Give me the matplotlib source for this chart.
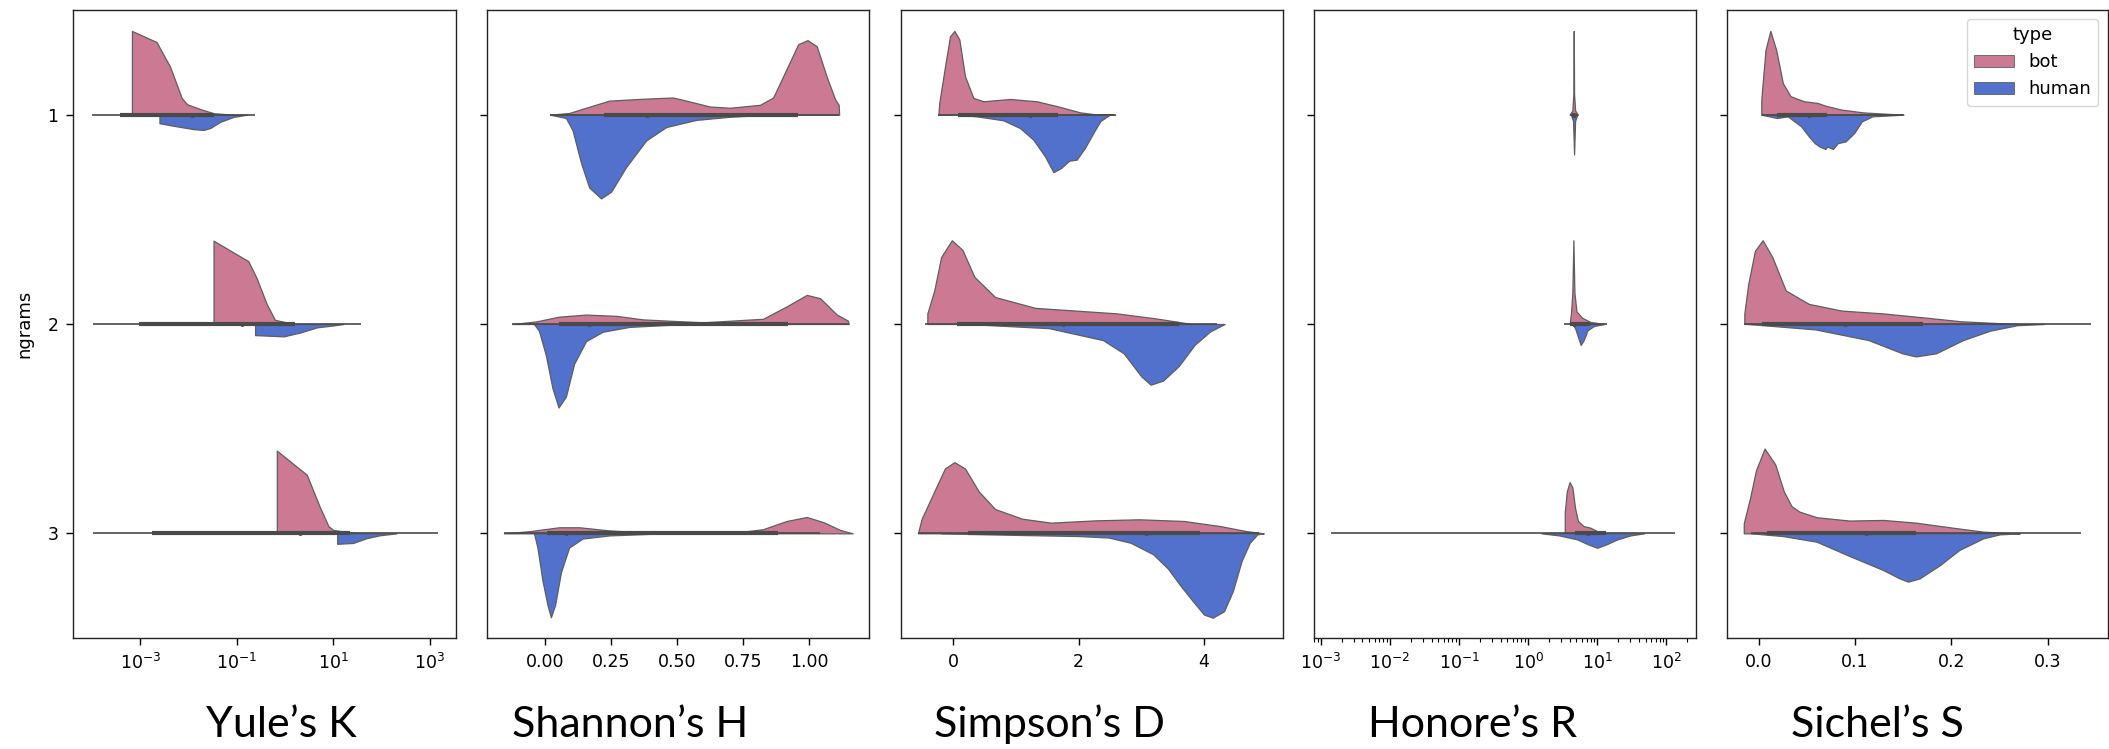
import matplotlib.pyplot as plt
import matplotlib.ticker as mticker
import numpy as np

# --- categories / legend ---
ngrams = ["1", "2", "3"]
types = ["bot", "human"]
titles = ["Yule\u2019s K", "Shannon\u2019s H", "Simpson\u2019s D", "Honore\u2019s R", "Sichel\u2019s S"]

# --- violin half-profiles: (x, half width) per ngram ---
# Yule's K, x given as log10 exponents
yule_bot = [
    ([-3.17, -3.17, -2.66, -2.38, -2.14, -2.03, -1.76, -1.48, -1.07],
     [0, 0.40, 0.347, 0.229, 0.08, 0.05, 0.027, 0.007, 0]),
    ([-1.48, -1.48, -0.76, -0.59, -0.38, -0.21, -0.03, 0.21],
     [0, 0.398, 0.30, 0.22, 0.096, 0.02, 0.011, 0]),
    ([-0.17, -0.17, 0.45, 0.72, 0.90, 1.0, 1.34, 1.6],
     [0, 0.395, 0.28, 0.126, 0.034, 0.016, 0.005, 0]),
]
yule_hum = [
    ([-2.6, -2.6, -2.31, -1.9, -1.69, -1.55, -1.34, -1.07, -0.79],
     [0, 0.041, 0.053, 0.069, 0.073, 0.064, 0.034, 0.011, 0]),
    ([-0.62, -0.62, -0.03, 0.31, 0.66, 1.0, 1.21],
     [0, 0.053, 0.059, 0.041, 0.016, 0.007, 0]),
    ([1.08, 1.08, 1.41, 1.69, 1.97, 2.31],
     [0, 0.05, 0.046, 0.023, 0.009, 0]),
]
# box stats: whisker low, q1, median, q3, whisker high
yule_box = [(-4.0, -3.41, -1.93, -1.48, -0.62),
            (-3.98, -3.03, -0.9, 0.21, 1.57),
            (-3.98, -2.76, 0.3, 1.34, 3.17)]

# Shannon's H
shannon_bot = [
    ([0.019, 0.091, 0.155, 0.243, 0.37, 0.484, 0.535, 0.624, 0.70, 0.814, 0.864, 0.915, 0.959, 0.994, 1.029, 1.067, 1.099, 1.112, 1.114],
     [0, 0.008, 0.033, 0.067, 0.076, 0.082, 0.067, 0.039, 0.033, 0.047, 0.082, 0.219, 0.337, 0.356, 0.327, 0.18, 0.072, 0.047, 0]),
    ([-0.124, -0.035, 0.053, 0.155, 0.269, 0.37, 0.598, 0.826, 0.915, 0.991, 1.042, 1.105, 1.147, 1.15],
     [0, 0.012, 0.035, 0.045, 0.039, 0.022, 0.008, 0.025, 0.084, 0.139, 0.123, 0.045, 0.016, 0]),
    ([-0.156, -0.061, 0.053, 0.129, 0.243, 0.408, 0.725, 0.826, 0.915, 0.991, 1.055, 1.118, 1.165],
     [0, 0.01, 0.029, 0.029, 0.014, 0.002, 0.004, 0.02, 0.059, 0.078, 0.053, 0.016, 0]),
]
shannon_hum = [
    ([0.019, 0.079, 0.104, 0.136, 0.167, 0.212, 0.25, 0.307, 0.383, 0.459, 0.573, 0.70, 0.79, 0.915],
     [0, 0.016, 0.074, 0.23, 0.348, 0.40, 0.368, 0.25, 0.123, 0.059, 0.025, 0.01, 0.004, 0]),
    ([-0.042, -0.023, 0.003, 0.028, 0.051, 0.079, 0.11, 0.155, 0.218, 0.319, 0.471, 0.598],
     [0, 0.033, 0.15, 0.307, 0.399, 0.346, 0.19, 0.082, 0.037, 0.014, 0.004, 0]),
    ([-0.042, -0.029, -0.01, 0.009, 0.022, 0.038, 0.06, 0.091, 0.142, 0.243, 0.408, 0.535],
     [0, 0.068, 0.225, 0.342, 0.401, 0.342, 0.186, 0.068, 0.025, 0.01, 0.002, 0]),
]
shannon_box = [(0.019, 0.224, 0.387, 0.959, 1.114),
               (-0.124, 0.053, 0.167, 0.921, 1.15),
               (-0.156, 0.009, 0.079, 0.883, 1.042)]

# Simpson's D
simpson_bot = [
    ([-0.234, -0.22, -0.128, -0.048, 0.021, 0.1, 0.191, 0.324, 0.484, 0.909, 1.334, 1.706, 2.025, 2.238, 2.584],
     [0, 0.056, 0.231, 0.375, 0.40, 0.359, 0.183, 0.08, 0.064, 0.075, 0.064, 0.037, 0.011, 0.003, 0]),
    ([-0.41, -0.41, -0.3, -0.19, -0.02, 0.15, 0.34, 0.67, 1.31, 1.96, 2.6, 3.25, 3.68, 3.8],
     [0, 0.05, 0.16, 0.32, 0.40, 0.354, 0.225, 0.129, 0.077, 0.064, 0.051, 0.026, 0.006, 0]),
    ([-0.56, -0.5, -0.3, -0.13, 0.02, 0.19, 0.41, 0.67, 1.1, 1.56, 2.27, 2.97, 3.68, 4.25, 4.67, 4.95],
     [0, 0.07, 0.2, 0.31, 0.34, 0.31, 0.2, 0.116, 0.07, 0.051, 0.062, 0.067, 0.059, 0.035, 0.011, 0]),
]
simpson_hum = [
    ([0.058, 0.377, 0.802, 1.068, 1.281, 1.467, 1.6, 1.72, 1.85, 1.97, 2.1, 2.25, 2.35, 2.5],
     [0, 0.008, 0.027, 0.064, 0.12, 0.2, 0.275, 0.255, 0.22, 0.215, 0.16, 0.08, 0.03, 0]),
    ([0.24, 1.53, 2.39, 2.72, 3.0, 3.15, 3.35, 3.6, 3.85, 4.1, 4.33],
     [0, 0.02, 0.077, 0.14, 0.25, 0.29, 0.27, 0.2, 0.1, 0.035, 0]),
    ([-0.19, 1.1, 2.0, 2.48, 2.83, 3.19, 3.43, 3.61, 3.82, 4.0, 4.14, 4.32, 4.46, 4.6, 4.73, 4.85, 4.95],
     [0, 0.008, 0.013, 0.02, 0.045, 0.1, 0.17, 0.244, 0.323, 0.388, 0.403, 0.372, 0.276, 0.132, 0.045, 0.005, 0]),
]
simpson_box = [(-0.234, 0.08, 1.23, 1.67, 2.584),
               (-0.45, 0.07, 1.75, 3.6, 4.2),
               (-0.56, 0.24, 3.08, 3.93, 4.87)]

# Honore's R, x given as log10 exponents
honore_bot = [
    ([0.60, 0.64, 0.655, 0.66, 0.665, 0.68, 0.72],
     [0, 0.02, 0.1, 0.40, 0.1, 0.02, 0]),
    ([0.60, 0.62, 0.64, 0.655, 0.67, 0.70, 0.78, 0.9, 1.1],
     [0, 0.05, 0.15, 0.40, 0.15, 0.06, 0.03, 0.01, 0]),
    ([0.53, 0.53, 0.56, 0.6, 0.64, 0.68, 0.72, 0.8, 0.9, 1.0, 1.13],
     [0, 0.10, 0.2, 0.245, 0.22, 0.12, 0.06, 0.035, 0.027, 0.01, 0]),
]
honore_hum = [
    ([0.62, 0.65, 0.665, 0.68, 0.71],
     [0, 0.03, 0.19, 0.03, 0]),
    ([0.64, 0.68, 0.72, 0.76, 0.80, 0.86, 0.95, 1.1],
     [0, 0.02, 0.06, 0.1, 0.08, 0.03, 0.01, 0]),
    ([0.19, 0.45, 0.71, 0.87, 1.0, 1.13, 1.29, 1.48, 1.68],
     [0, 0.01, 0.029, 0.053, 0.069, 0.053, 0.029, 0.01, 0]),
]
honore_box = [(0.60, 0.64, 0.66, 0.68, 0.72),
              (0.52, 0.6, 0.66, 0.9, 1.14),
              (-2.86, 0.68, 0.87, 1.13, 2.13)]

# Sichel's S
sichel_bot = [
    ([0.0026, 0.0026, 0.004, 0.007, 0.012, 0.018, 0.025, 0.033, 0.047, 0.061, 0.069, 0.086, 0.108, 0.13, 0.15],
     [0, 0.07, 0.15, 0.31, 0.40, 0.31, 0.15, 0.088, 0.064, 0.056, 0.043, 0.024, 0.011, 0.005, 0]),
    ([-0.015, -0.015, -0.011, -0.004, 0.004, 0.014, 0.028, 0.052, 0.086, 0.128, 0.17, 0.21, 0.268],
     [0, 0.05, 0.19, 0.35, 0.40, 0.32, 0.16, 0.096, 0.064, 0.051, 0.032, 0.013, 0]),
    ([-0.0156, -0.0156, -0.013, -0.009, -0.003, 0.006, 0.017, 0.026, 0.034, 0.042, 0.06, 0.094, 0.129, 0.163, 0.198, 0.233, 0.267],
     [0, 0.048, 0.096, 0.17, 0.30, 0.405, 0.33, 0.2, 0.13, 0.104, 0.077, 0.061, 0.064, 0.051, 0.029, 0.008, 0]),
]
sichel_hum = [
    ([0.0026, 0.019, 0.030, 0.044, 0.052, 0.058, 0.063, 0.069, 0.071, 0.077, 0.082, 0.09, 0.099, 0.107, 0.118, 0.15],
     [0, 0.016, 0.008, 0.056, 0.104, 0.136, 0.152, 0.164, 0.152, 0.164, 0.136, 0.128, 0.088, 0.032, 0.008, 0]),
    ([-0.011, 0.059, 0.114, 0.149, 0.163, 0.184, 0.212, 0.24, 0.268, 0.296],
     [0, 0.026, 0.077, 0.14, 0.155, 0.14, 0.077, 0.032, 0.006, 0]),
    ([-0.008, 0.025, 0.06, 0.094, 0.129, 0.146, 0.155, 0.167, 0.188, 0.208, 0.233, 0.25, 0.271],
     [0, 0.013, 0.04, 0.108, 0.175, 0.215, 0.231, 0.215, 0.152, 0.08, 0.024, 0.005, 0]),
]
sichel_box = [(0.003, 0.019, 0.052, 0.071, 0.15),
              (-0.015, 0.003, 0.09, 0.17, 0.345),
              (-0.008, 0.009, 0.111, 0.163, 0.335)]

# --- style ---
PINK = "#cc7a94"
BLUE = "#5271cc"
EDGE = "#5e5e5e"
BOXC = "#4a4a4a"

W, H = 2109, 749
fig = plt.figure(figsize=(W / 100, H / 100), dpi=100)

panels = [
    (yule_bot, yule_hum, yule_box, True, (-4.39, 3.54)),
    (shannon_bot, shannon_hum, shannon_box, False, (-0.22, 1.227)),
    (simpson_bot, simpson_hum, simpson_box, False, (-0.83, 5.26)),
    (honore_bot, honore_hum, honore_box, True, (-3.1, 2.43)),
    (sichel_bot, sichel_hum, sichel_box, False, (-0.033, 0.362)),
]
lefts = [73, 487, 901, 1314, 1727]
widths = [383, 382, 382, 382, 380.5]
title_x = [281, 630, 1050, 1472, 1877]


def to_x(vals, logx):
    vals = np.asarray(vals, dtype=float)
    return 10 ** vals if logx else vals


axes = []
for i, (bot, hum, box, logx, lim) in enumerate(panels):
    ax = fig.add_axes([lefts[i] / W, 1 - 638 / H, widths[i] / W, 628 / H])
    axes.append(ax)
    if logx:
        ax.set_xscale("log")
    for row in range(len(ngrams)):
        bx, bh = bot[row]
        hx, hh = hum[row]
        ax.fill_between(to_x(bx, logx), row, row - np.asarray(bh), facecolor=PINK,
                        edgecolor=EDGE, lw=0.9, zorder=2)
        ax.fill_between(to_x(hx, logx), row, row + np.asarray(hh), facecolor=BLUE,
                        edgecolor=EDGE, lw=0.9, zorder=2)
        wlo, q1, med, q3, whi = to_x(box[row], logx)
        ax.plot([wlo, whi], [row, row], color=BOXC, lw=1.2, zorder=3,
                solid_capstyle="butt")
        ax.plot([q1, q3], [row, row], color=BOXC, lw=3.0, zorder=3,
                solid_capstyle="butt")
        ax.plot([med], [row], "o", color=BOXC, ms=2.5, zorder=4)

    if logx:
        ax.set_xlim(10 ** lim[0], 10 ** lim[1])
    else:
        ax.set_xlim(*lim)
    ax.set_ylim(2.5, -0.5)
    ax.set_yticks(range(len(ngrams)))
    if i == 0:
        ax.set_yticklabels(ngrams)
        ax.set_ylabel("ngrams", fontsize=13, labelpad=10)
    else:
        ax.set_yticklabels([])
    ax.tick_params(axis="both", which="major", length=5, width=1.0,
                   labelsize=12.5, pad=5.5)
    for sp in ax.spines.values():
        sp.set_linewidth(1.0)
        sp.set_color("#222222")

    fig.text(title_x[i] / W, 1 - 737 / H, titles[i], ha="center", va="baseline",
             fontsize=31, family=["Lato", "DejaVu Sans"])

# tick layout per panel
axes[0].set_xticks([1e-3, 1e-1, 1e1, 1e3])
axes[0].xaxis.set_minor_locator(mticker.NullLocator())
axes[1].set_xticks([0.0, 0.25, 0.5, 0.75, 1.0])
axes[2].set_xticks([0, 2, 4])
axes[3].set_xticks([10.0 ** k for k in range(-3, 3)])
axes[3].xaxis.set_minor_locator(mticker.LogLocator(base=10, subs=np.arange(2, 10), numticks=20))
axes[3].tick_params(axis="x", which="minor", length=3, width=0.8)
axes[4].set_xticks([0.0, 0.1, 0.2, 0.3])

# legend
handles = [plt.Rectangle((0, 0), 1, 1, facecolor=PINK, edgecolor=EDGE, lw=0.6),
           plt.Rectangle((0, 0), 1, 1, facecolor=BLUE, edgecolor=EDGE, lw=0.6)]
axes[4].legend(handles, types, title="type", loc="upper right", fontsize=13,
               title_fontsize=13, handlelength=2.2, framealpha=0.8, edgecolor="0.8")

fig.savefig("out.png", dpi=100)
